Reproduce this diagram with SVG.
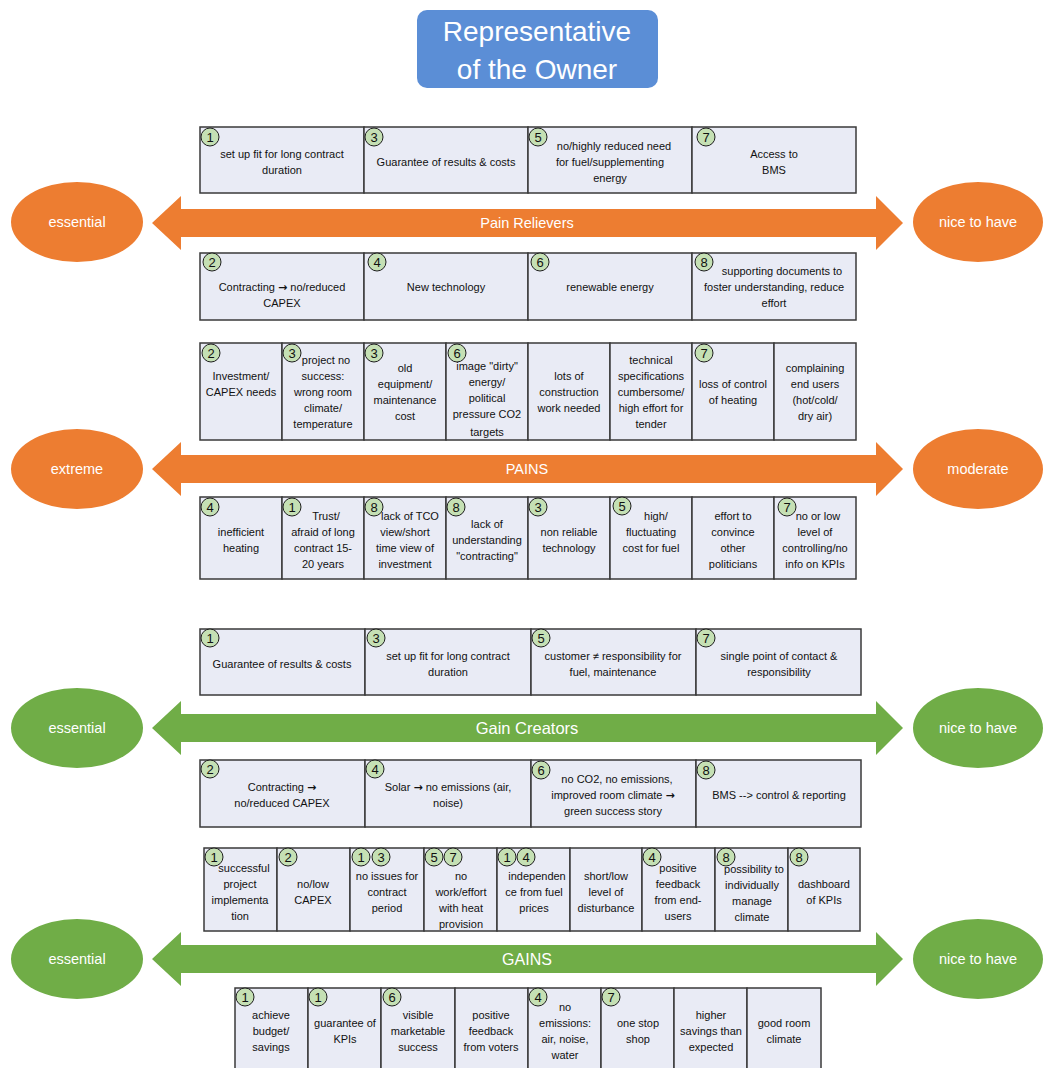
<svg xmlns="http://www.w3.org/2000/svg" width="1043" height="1068" viewBox="0 0 1043 1068">
  <style>
    .cell { fill: #E9EBF5; stroke: #3A3A3A; stroke-width: 1.5; }
    .t { font-family: "Liberation Sans", Arial, sans-serif; font-size: 11px; fill: #111; text-anchor: middle; dominant-baseline: central; }
    .ar { font-family: "DejaVu Sans", sans-serif; font-weight: bold; font-size: 11px; }
    .bc { fill: #C5E0B4; stroke: #1E1E1E; stroke-width: 1; }
    .bn { font-family: "Liberation Sans", Arial, sans-serif; font-size: 13px; fill: #111; text-anchor: middle; dominant-baseline: central; }
    .orange { fill: #ED7D31; }
    .green { fill: #70AD47; }
    .wl { font-family: "Liberation Sans", Arial, sans-serif; font-size: 14.5px; fill: #FFFFFF; text-anchor: middle; dominant-baseline: central; }
    .title { font-family: "Liberation Sans", Arial, sans-serif; font-size: 28px; fill: #FFFFFF; text-anchor: middle; dominant-baseline: central; }
  </style>

  <!-- heading -->
  <g id="title">
    <rect x="417" y="10" width="241" height="78" rx="10" fill="#5B8ED6"/>
    <text class="title" x="537" y="31">Representative</text>
    <text class="title" x="537" y="69">of the Owner</text>
  </g>

  <!-- scale arrows -->
  <g id="connectors">
    <polygon id="arrow-pain-relievers" class="orange" points="152,223 181,196 181,209 876,209 876,196 903,223 876,250 876,237 181,237 181,250"/>
    <polygon id="arrow-pains" class="orange" points="152,469 181,442 181,455 876,455 876,442 903,469 876,496 876,483 181,483 181,496"/>
    <polygon id="arrow-gain-creators" class="green" points="152,728 181,701 181,714 876,714 876,701 903,728 876,755 876,742 181,742 181,755"/>
    <polygon id="arrow-gains" class="green" points="152,959 181,932 181,945 876,945 876,932 903,959 876,986 876,973 181,973 181,986"/>
    <text class="wl" x="527" y="223">Pain Relievers</text>
    <text class="wl" x="527" y="469">PAINS</text>
    <text class="wl" x="527" y="728" style="font-size:16.5px">Gain Creators</text>
    <text class="wl" x="527" y="959" style="font-size:16px">GAINS</text>
  </g>

  <!-- scale ends -->
  <g id="end-pr-essential"><ellipse class="orange" cx="77" cy="222" rx="66" ry="40"/><text class="wl" x="77" y="222">essential</text></g>
  <g id="end-pr-nice"><ellipse class="orange" cx="978" cy="222" rx="65" ry="40"/><text class="wl" x="978" y="222">nice to have</text></g>
  <g id="end-pains-extreme"><ellipse class="orange" cx="77" cy="469" rx="66" ry="40"/><text class="wl" x="77" y="469">extreme</text></g>
  <g id="end-pains-moderate"><ellipse class="orange" cx="978" cy="469" rx="65" ry="40"/><text class="wl" x="978" y="469">moderate</text></g>
  <g id="end-gc-essential"><ellipse class="green" cx="77" cy="728" rx="66" ry="40"/><text class="wl" x="77" y="728">essential</text></g>
  <g id="end-gc-nice"><ellipse class="green" cx="978" cy="728" rx="65" ry="40"/><text class="wl" x="978" y="728">nice to have</text></g>
  <g id="end-gains-essential"><ellipse class="green" cx="77" cy="959" rx="66" ry="40"/><text class="wl" x="77" y="959">essential</text></g>
  <g id="end-gains-nice"><ellipse class="green" cx="978" cy="959" rx="65" ry="40"/><text class="wl" x="978" y="959">nice to have</text></g>

  <!-- Pain relievers, upper row -->
  <g id="pr-1"><rect class="cell" x="200" y="127" width="164" height="66"/><circle class="bc" cx="210" cy="137" r="9"/><text class="bn" x="210" y="137">1</text>
    <text class="t"><tspan x="282" y="154">set up fit for long contract</tspan><tspan x="282" y="170">duration</tspan></text></g>
  <g id="pr-3"><rect class="cell" x="364" y="127" width="164" height="66"/><circle class="bc" cx="374" cy="137" r="9"/><text class="bn" x="374" y="137">3</text>
    <text class="t"><tspan x="446" y="162">Guarantee of results &amp; costs</tspan></text></g>
  <g id="pr-5"><rect class="cell" x="528" y="127" width="164" height="66"/><circle class="bc" cx="538" cy="137" r="9"/><text class="bn" x="538" y="137">5</text>
    <text class="t"><tspan x="614" y="146">no/highly reduced  need</tspan><tspan x="610" y="162">for fuel/supplementing</tspan><tspan x="610" y="178">energy</tspan></text></g>
  <g id="pr-7"><rect class="cell" x="692" y="127" width="164" height="66"/><circle class="bc" cx="706" cy="137" r="9"/><text class="bn" x="706" y="137">7</text>
    <text class="t"><tspan x="774" y="154">Access to</tspan><tspan x="774" y="170">BMS</tspan></text></g>

  <!-- Pain relievers, lower row -->
  <g id="pr-2"><rect class="cell" x="200" y="253" width="164" height="67"/><circle class="bc" cx="212" cy="262" r="9"/><text class="bn" x="212" y="262">2</text>
    <text class="t"><tspan x="282" y="287">Contracting  <tspan class="ar">→</tspan> no/reduced</tspan><tspan x="282" y="303">CAPEX</tspan></text></g>
  <g id="pr-4"><rect class="cell" x="364" y="253" width="164" height="67"/><circle class="bc" cx="377" cy="262" r="9"/><text class="bn" x="377" y="262">4</text>
    <text class="t"><tspan x="446" y="287">New technology</tspan></text></g>
  <g id="pr-6"><rect class="cell" x="528" y="253" width="164" height="67"/><circle class="bc" cx="540" cy="262" r="9"/><text class="bn" x="540" y="262">6</text>
    <text class="t"><tspan x="610" y="287">renewable energy</tspan></text></g>
  <g id="pr-8"><rect class="cell" x="692" y="253" width="164" height="67"/><circle class="bc" cx="704" cy="262" r="9"/><text class="bn" x="704" y="262">8</text>
    <text class="t"><tspan x="782" y="271">supporting  documents to</tspan><tspan x="774" y="287">foster understanding,  reduce</tspan><tspan x="774" y="303">effort</tspan></text></g>

  <!-- Pains, upper row -->
  <g id="pain-investment"><rect class="cell" x="200" y="343" width="82" height="97"/><circle class="bc" cx="211" cy="353" r="9"/><text class="bn" x="211" y="353">2</text>
    <text class="t"><tspan x="241" y="376">Investment/</tspan><tspan x="241" y="392">CAPEX needs</tspan></text></g>
  <g id="pain-no-success"><rect class="cell" x="282" y="343" width="82" height="97"/><circle class="bc" cx="292" cy="353" r="9"/><text class="bn" x="292" y="353">3</text>
    <text class="t"><tspan x="326" y="360">project  no</tspan><tspan x="323" y="376">success:</tspan><tspan x="323" y="392">wrong room</tspan><tspan x="323" y="408">climate/</tspan><tspan x="323" y="424">temperature</tspan></text></g>
  <g id="pain-old-equipment"><rect class="cell" x="364" y="343" width="82" height="97"/><circle class="bc" cx="374" cy="353" r="9"/><text class="bn" x="374" y="353">3</text>
    <text class="t"><tspan x="405" y="368">old</tspan><tspan x="405" y="384">equipment/</tspan><tspan x="405" y="400">maintenance</tspan><tspan x="405" y="416">cost</tspan></text></g>
  <g id="pain-image"><rect class="cell" x="446" y="343" width="82" height="97"/><circle class="bc" cx="457" cy="353" r="9"/><text class="bn" x="457" y="353">6</text>
    <text class="t"><tspan x="487" y="366">image "dirty"</tspan><tspan x="487" y="382">energy/</tspan><tspan x="487" y="398">political</tspan><tspan x="487" y="414">pressure CO2</tspan><tspan x="487" y="432">targets</tspan></text></g>
  <g id="pain-construction"><rect class="cell" x="528" y="343" width="82" height="97"/>
    <text class="t"><tspan x="569" y="376">lots of</tspan><tspan x="569" y="392">construction</tspan><tspan x="569" y="408">work needed</tspan></text></g>
  <g id="pain-specifications"><rect class="cell" x="610" y="343" width="82" height="97"/>
    <text class="t"><tspan x="651" y="360">technical</tspan><tspan x="651" y="376">specifications</tspan><tspan x="651" y="392">cumbersome/</tspan><tspan x="651" y="408">high effort for</tspan><tspan x="651" y="424">tender</tspan></text></g>
  <g id="pain-control"><rect class="cell" x="692" y="343" width="82" height="97"/><circle class="bc" cx="704" cy="353" r="9"/><text class="bn" x="704" y="353">7</text>
    <text class="t"><tspan x="733" y="384">loss of control</tspan><tspan x="733" y="400">of heating</tspan></text></g>
  <g id="pain-complaints"><rect class="cell" x="774" y="343" width="82" height="97"/>
    <text class="t"><tspan x="815" y="368">complaining</tspan><tspan x="815" y="384">end users</tspan><tspan x="815" y="400">(hot/cold/</tspan><tspan x="815" y="416">dry air)</tspan></text></g>

  <!-- Pains, lower row -->
  <g id="pain-heating"><rect class="cell" x="200" y="497" width="82" height="82"/><circle class="bc" cx="210" cy="507" r="9"/><text class="bn" x="210" y="507">4</text>
    <text class="t"><tspan x="241" y="532">inefficient</tspan><tspan x="241" y="548">heating</tspan></text></g>
  <g id="pain-trust"><rect class="cell" x="282" y="497" width="82" height="82"/><circle class="bc" cx="292" cy="507" r="9"/><text class="bn" x="292" y="507">1</text>
    <text class="t"><tspan x="326" y="516">Trust/</tspan><tspan x="323" y="532">afraid of long</tspan><tspan x="323" y="548">contract  15-</tspan><tspan x="323" y="564">20 years</tspan></text></g>
  <g id="pain-tco"><rect class="cell" x="364" y="497" width="82" height="82"/><circle class="bc" cx="374" cy="507" r="9"/><text class="bn" x="374" y="507">8</text>
    <text class="t"><tspan x="410" y="516">lack of TCO</tspan><tspan x="405" y="532">view/short</tspan><tspan x="405" y="548">time view of</tspan><tspan x="405" y="564">investment</tspan></text></g>
  <g id="pain-contracting"><rect class="cell" x="446" y="497" width="82" height="82"/><circle class="bc" cx="456" cy="507" r="9"/><text class="bn" x="456" y="507">8</text>
    <text class="t"><tspan x="487" y="524">lack of</tspan><tspan x="487" y="540">understanding</tspan><tspan x="487" y="556">"contracting"</tspan></text></g>
  <g id="pain-technology"><rect class="cell" x="528" y="497" width="82" height="82"/><circle class="bc" cx="538" cy="507" r="9"/><text class="bn" x="538" y="507">3</text>
    <text class="t"><tspan x="569" y="532">non reliable</tspan><tspan x="569" y="548">technology</tspan></text></g>
  <g id="pain-fuel-cost"><rect class="cell" x="610" y="497" width="82" height="82"/><circle class="bc" cx="622" cy="506" r="9"/><text class="bn" x="622" y="506">5</text>
    <text class="t"><tspan x="656" y="516">high/</tspan><tspan x="651" y="532">fluctuating</tspan><tspan x="651" y="548">cost for fuel</tspan></text></g>
  <g id="pain-politicians"><rect class="cell" x="692" y="497" width="82" height="82"/>
    <text class="t"><tspan x="733" y="516">effort to</tspan><tspan x="733" y="532">convince</tspan><tspan x="733" y="548">other</tspan><tspan x="733" y="564">politicians</tspan></text></g>
  <g id="pain-kpis"><rect class="cell" x="774" y="497" width="82" height="82"/>
    <text class="t"><tspan x="818" y="516">no or low</tspan><tspan x="815" y="532">level of</tspan><tspan x="815" y="548">controlling/no</tspan><tspan x="815" y="564">info on KPIs</tspan></text>
    <circle class="bc" cx="787" cy="507" r="9"/><text class="bn" x="787" y="507">7</text></g>

  <!-- Gain creators, upper row -->
  <g id="gc-1"><rect class="cell" x="200" y="629" width="165" height="66"/><circle class="bc" cx="210" cy="638" r="9"/><text class="bn" x="210" y="638">1</text>
    <text class="t"><tspan x="282" y="664">Guarantee of results &amp; costs</tspan></text></g>
  <g id="gc-3"><rect class="cell" x="365" y="629" width="166" height="66"/><circle class="bc" cx="376" cy="638" r="9"/><text class="bn" x="376" y="638">3</text>
    <text class="t"><tspan x="448" y="656">set up fit for long contract</tspan><tspan x="448" y="672">duration</tspan></text></g>
  <g id="gc-5"><rect class="cell" x="531" y="629" width="165" height="66"/><circle class="bc" cx="541" cy="638" r="9"/><text class="bn" x="541" y="638">5</text>
    <text class="t"><tspan x="613" y="656">customer ≠ responsibility  for</tspan><tspan x="613" y="672">fuel, maintenance</tspan></text></g>
  <g id="gc-7"><rect class="cell" x="696" y="629" width="165" height="66"/><circle class="bc" cx="706" cy="638" r="9"/><text class="bn" x="706" y="638">7</text>
    <text class="t"><tspan x="779" y="656">single point of contact &amp;</tspan><tspan x="779" y="672">responsibility</tspan></text></g>

  <!-- Gain creators, lower row -->
  <g id="gc-2"><rect class="cell" x="200" y="760" width="165" height="67"/><circle class="bc" cx="210" cy="769" r="9"/><text class="bn" x="210" y="769">2</text>
    <text class="t"><tspan x="282" y="787">Contracting  <tspan class="ar">→</tspan></tspan><tspan x="282" y="803">no/reduced  CAPEX</tspan></text></g>
  <g id="gc-4"><rect class="cell" x="365" y="760" width="166" height="67"/><circle class="bc" cx="375" cy="769" r="9"/><text class="bn" x="375" y="769">4</text>
    <text class="t"><tspan x="448" y="787">Solar <tspan class="ar">→</tspan> no emissions (air,</tspan><tspan x="448" y="803">noise)</tspan></text></g>
  <g id="gc-6"><rect class="cell" x="531" y="760" width="165" height="67"/><circle class="bc" cx="541" cy="770" r="9"/><text class="bn" x="541" y="770">6</text>
    <text class="t"><tspan x="617" y="779">no CO2, no emissions,</tspan><tspan x="613" y="795">improved room  climate <tspan class="ar">→</tspan></tspan><tspan x="613" y="811">green success story</tspan></text></g>
  <g id="gc-8"><rect class="cell" x="696" y="760" width="165" height="67"/><circle class="bc" cx="706" cy="770" r="9"/><text class="bn" x="706" y="770">8</text>
    <text class="t"><tspan x="779" y="795">BMS --&gt; control  &amp; reporting</tspan></text></g>

  <!-- Gains, upper row -->
  <g id="gain-implementation"><rect class="cell" x="204" y="848" width="73" height="83"/><circle class="bc" cx="214" cy="857" r="9"/><text class="bn" x="214" y="857">1</text>
    <text class="t"><tspan x="244" y="868">successful</tspan><tspan x="240" y="884">project</tspan><tspan x="240" y="900">implementa</tspan><tspan x="240" y="916">tion</tspan></text></g>
  <g id="gain-capex"><rect class="cell" x="277" y="848" width="73" height="83"/><circle class="bc" cx="288" cy="857" r="9"/><text class="bn" x="288" y="857">2</text>
    <text class="t"><tspan x="313" y="884">no/low</tspan><tspan x="313" y="900">CAPEX</tspan></text></g>
  <g id="gain-contract-period"><rect class="cell" x="350" y="848" width="74" height="83"/>
    <circle class="bc" cx="361" cy="857" r="9"/><text class="bn" x="361" y="857">1</text><circle class="bc" cx="381" cy="857" r="9"/><text class="bn" x="381" y="857">3</text>
    <text class="t"><tspan x="387" y="876">no issues for</tspan><tspan x="387" y="892">contract</tspan><tspan x="387" y="908">period</tspan></text></g>
  <g id="gain-heat-provision"><rect class="cell" x="424" y="848" width="73" height="83"/>
    <circle class="bc" cx="434" cy="857" r="9"/><text class="bn" x="434" y="857">5</text><circle class="bc" cx="453" cy="857" r="9"/><text class="bn" x="453" y="857">7</text>
    <text class="t"><tspan x="461" y="876">no</tspan><tspan x="461" y="892">work/effort</tspan><tspan x="461" y="908">with heat</tspan><tspan x="461" y="924">provision</tspan></text></g>
  <g id="gain-fuel-prices"><rect class="cell" x="497" y="848" width="73" height="83"/>
    <circle class="bc" cx="507" cy="857" r="9"/><text class="bn" x="507" y="857">1</text><circle class="bc" cx="526" cy="857" r="9"/><text class="bn" x="526" y="857">4</text>
    <text class="t"><tspan x="537" y="876">independen</tspan><tspan x="534" y="892">ce from fuel</tspan><tspan x="534" y="908">prices</tspan></text></g>
  <g id="gain-disturbance"><rect class="cell" x="570" y="848" width="72" height="83"/>
    <text class="t"><tspan x="606" y="876">short/low</tspan><tspan x="606" y="892">level of</tspan><tspan x="606" y="908">disturbance</tspan></text></g>
  <g id="gain-user-feedback"><rect class="cell" x="642" y="848" width="73" height="83"/><circle class="bc" cx="652" cy="857" r="9"/><text class="bn" x="652" y="857">4</text>
    <text class="t"><tspan x="678" y="868">positive</tspan><tspan x="678" y="884">feedback</tspan><tspan x="678" y="900">from end-</tspan><tspan x="678" y="916">users</tspan></text></g>
  <g id="gain-manage-climate"><rect class="cell" x="715" y="848" width="73" height="83"/>
    <text class="t"><tspan x="754" y="869">possibility to</tspan><tspan x="752" y="885">individually</tspan><tspan x="752" y="901">manage</tspan><tspan x="752" y="917">climate</tspan></text>
    <circle class="bc" cx="726" cy="857" r="9"/><text class="bn" x="726" y="857">8</text></g>
  <g id="gain-dashboard"><rect class="cell" x="788" y="848" width="72" height="83"/><circle class="bc" cx="799" cy="857" r="9"/><text class="bn" x="799" y="857">8</text>
    <text class="t"><tspan x="824" y="884">dashboard</tspan><tspan x="824" y="900">of KPIs</tspan></text></g>

  <!-- Gains, lower row -->
  <g id="gain-budget"><rect class="cell" x="235" y="988" width="73" height="82"/><circle class="bc" cx="245" cy="997" r="9"/><text class="bn" x="245" y="997">1</text>
    <text class="t"><tspan x="271" y="1015">achieve</tspan><tspan x="271" y="1031">budget/</tspan><tspan x="271" y="1047">savings</tspan></text></g>
  <g id="gain-kpis"><rect class="cell" x="308" y="988" width="73" height="82"/><circle class="bc" cx="318" cy="997" r="9"/><text class="bn" x="318" y="997">1</text>
    <text class="t"><tspan x="345" y="1023">guarantee of</tspan><tspan x="345" y="1039">KPIs</tspan></text></g>
  <g id="gain-marketable"><rect class="cell" x="381" y="988" width="74" height="82"/><circle class="bc" cx="392" cy="997" r="9"/><text class="bn" x="392" y="997">6</text>
    <text class="t"><tspan x="418" y="1015">visible</tspan><tspan x="418" y="1031">marketable</tspan><tspan x="418" y="1047">success</tspan></text></g>
  <g id="gain-voters"><rect class="cell" x="455" y="988" width="73" height="82"/>
    <text class="t"><tspan x="491" y="1015">positive</tspan><tspan x="491" y="1031">feedback</tspan><tspan x="491" y="1047">from voters</tspan></text></g>
  <g id="gain-no-emissions"><rect class="cell" x="528" y="988" width="73" height="82"/><circle class="bc" cx="538" cy="997" r="9"/><text class="bn" x="538" y="997">4</text>
    <text class="t"><tspan x="565" y="1007">no</tspan><tspan x="565" y="1023">emissions:</tspan><tspan x="565" y="1039">air, noise,</tspan><tspan x="565" y="1055">water</tspan></text></g>
  <g id="gain-one-stop"><rect class="cell" x="601" y="988" width="73" height="82"/><circle class="bc" cx="611" cy="997" r="9"/><text class="bn" x="611" y="997">7</text>
    <text class="t"><tspan x="638" y="1023">one stop</tspan><tspan x="638" y="1039">shop</tspan></text></g>
  <g id="gain-savings"><rect class="cell" x="674" y="988" width="73" height="82"/>
    <text class="t"><tspan x="711" y="1015">higher</tspan><tspan x="711" y="1031">savings than</tspan><tspan x="711" y="1047">expected</tspan></text></g>
  <g id="gain-room-climate"><rect class="cell" x="747" y="988" width="74" height="82"/>
    <text class="t"><tspan x="784" y="1023">good room</tspan><tspan x="784" y="1039">climate</tspan></text></g>
</svg>
